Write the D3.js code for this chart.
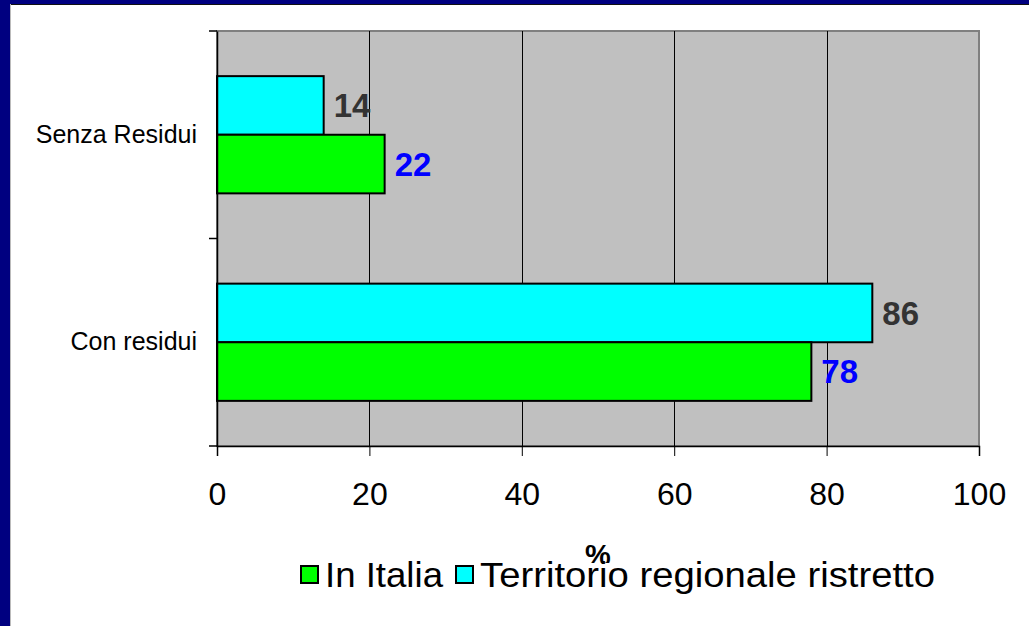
<!DOCTYPE html>
<html>
<head>
<meta charset="utf-8">
<script src="https://cdn.jsdelivr.net/npm/d3@7"></script>
<style>
  body { margin: 0; background: #fff; }
  svg { display: block; font-family: "Liberation Sans", Arial, sans-serif; }
</style>
</head>
<body>
<script>
// data
var categories = ["Senza Residui", "Con residui"];
var seriesNames = ["Territorio regionale ristretto", "In Italia"];
var territorio = [14, 86];
var italia = [22, 78];
var xTicks = [0, 20, 40, 60, 80, 100];
var legendOrder = ["In Italia", "Territorio regionale ristretto"];

var colors = { "In Italia": "#00ff00", "Territorio regionale ristretto": "#00ffff" };
var labelColors = { "In Italia": "#0000ff", "Territorio regionale ristretto": "#333333" };

var W = 1029, H = 626;
var svg = d3.select("body").append("svg")
            .attr("width", W)
            .attr("height", H);

// slide frame
svg.append("rect").attr("x", 0).attr("y", 0).attr("width", W).attr("height", H).attr("fill", "#fff");
svg.append("rect").attr("x", 0).attr("y", 0).attr("width", W).attr("height", 4).attr("fill", "#000080");
svg.append("rect").attr("x", 0).attr("y", 0).attr("width", 10).attr("height", H).attr("fill", "#000080");
svg.append("line").attr("x1", 10).attr("x2", W).attr("y1", 4.5).attr("y2", 4.5).attr("stroke", "#111").attr("stroke-width", 1);
svg.append("line").attr("x1", 10.5).attr("x2", 10.5).attr("y1", 4).attr("y2", H).attr("stroke", "#bbb").attr("stroke-width", 1);

var plotL = 217, plotR = 979, plotT = 31, plotB = 446;

var x = d3.scaleLinear().domain([0, 100]).range([plotL, plotR]);
var y = d3.scaleBand().domain(categories).range([plotT, plotB]).padding(0);
var ySub = d3.scaleBand().domain(seriesNames).range([0, y.bandwidth()]).paddingInner(0).paddingOuter(0.77);

// plot background
svg.append("rect")
   .attr("x", plotL).attr("y", plotT)
   .attr("width", plotR - plotL).attr("height", plotB - plotT)
   .attr("fill", "#c0c0c0")
   .attr("stroke", "#808080")
   .attr("stroke-width", 2);

// gridlines
svg.append("g")
   .selectAll("line")
   .data(xTicks.slice(1, -1))
   .join("line")
   .attr("x1", d => Math.round(x(d)) + 0.5)
   .attr("x2", d => Math.round(x(d)) + 0.5)
   .attr("y1", plotT).attr("y2", plotB)
   .attr("stroke", "#000").attr("stroke-width", 1);

// bars
var rows = [];
categories.forEach((c, i) => {
  rows.push({ cat: c, s: "Territorio regionale ristretto", v: territorio[i] });
  rows.push({ cat: c, s: "In Italia", v: italia[i] });
});

svg.append("g")
   .selectAll("rect")
   .data(rows)
   .join("rect")
   .attr("x", x(0))
   .attr("y", d => y(d.cat) + ySub(d.s))
   .attr("width", d => x(d.v) - x(0))
   .attr("height", ySub.bandwidth())
   .attr("fill", d => colors[d.s])
   .attr("stroke", "#000")
   .attr("stroke-width", 2);

// value labels
svg.append("g")
   .selectAll("text")
   .data(rows)
   .join("text")
   .attr("x", d => x(d.v) + 10)
   .attr("y", d => y(d.cat) + ySub(d.s) + ySub.bandwidth() / 2)
   .attr("dy", "0.36em")
   .attr("font-size", 33)
   .attr("font-weight", "bold")
   .attr("fill", d => labelColors[d.s])
   .text(d => d.v);

// x axis
var xAxis = d3.axisBottom(x).tickValues(xTicks).tickSize(10).tickPadding(26);
var gx = svg.append("g").attr("transform", "translate(0," + plotB + ")").call(xAxis);
gx.select(".domain").attr("stroke", "#000").attr("stroke-width", 1.5);
gx.selectAll(".tick line").attr("stroke", "#000");
gx.selectAll(".tick text").attr("font-size", 32).attr("fill", "#000")
  .attr("font-family", "Liberation Sans, Arial, sans-serif");

// y axis
var yAxis = d3.axisLeft(y).tickSize(0).tickPadding(20);
var gy = svg.append("g").attr("transform", "translate(" + plotL + ",0)").call(yAxis);
gy.select(".domain").attr("stroke", "#000").attr("stroke-width", 1.5);
gy.selectAll(".tick text").attr("font-size", 25).attr("fill", "#000")
  .attr("font-family", "Liberation Sans, Arial, sans-serif");

// category separator ticks
var bounds = [plotT, y(categories[1]), plotB];
svg.append("g")
   .selectAll("line")
   .data(bounds)
   .join("line")
   .attr("x1", plotL - 8).attr("x2", plotL)
   .attr("y1", d => d).attr("y2", d => d)
   .attr("stroke", "#000").attr("stroke-width", 1.5);

// axis title
svg.append("text")
   .attr("x", 598).attr("y", 565)
   .attr("text-anchor", "middle")
   .attr("font-size", 29)
   .attr("font-weight", "bold")
   .text("%");

// legend (covers bottom of the % label)
var lg = svg.append("g");
lg.append("rect").attr("x", 292).attr("y", 563).attr("width", 650).attr("height", 38).attr("fill", "#fff");
var items = [
  { name: legendOrder[0], sx: 301, tx: 325, tw: 118 },
  { name: legendOrder[1], sx: 456, tx: 480, tw: 455 }
];
items.forEach(it => {
  lg.append("rect")
    .attr("x", it.sx).attr("y", 566)
    .attr("width", 17).attr("height", 17)
    .attr("fill", colors[it.name])
    .attr("stroke", "#000").attr("stroke-width", 2);
  lg.append("text")
    .attr("x", it.tx).attr("y", 587)
    .attr("font-size", 35)
    .attr("textLength", it.tw)
    .attr("lengthAdjust", "spacingAndGlyphs")
    .text(it.name);
});
</script>
</body>
</html>
